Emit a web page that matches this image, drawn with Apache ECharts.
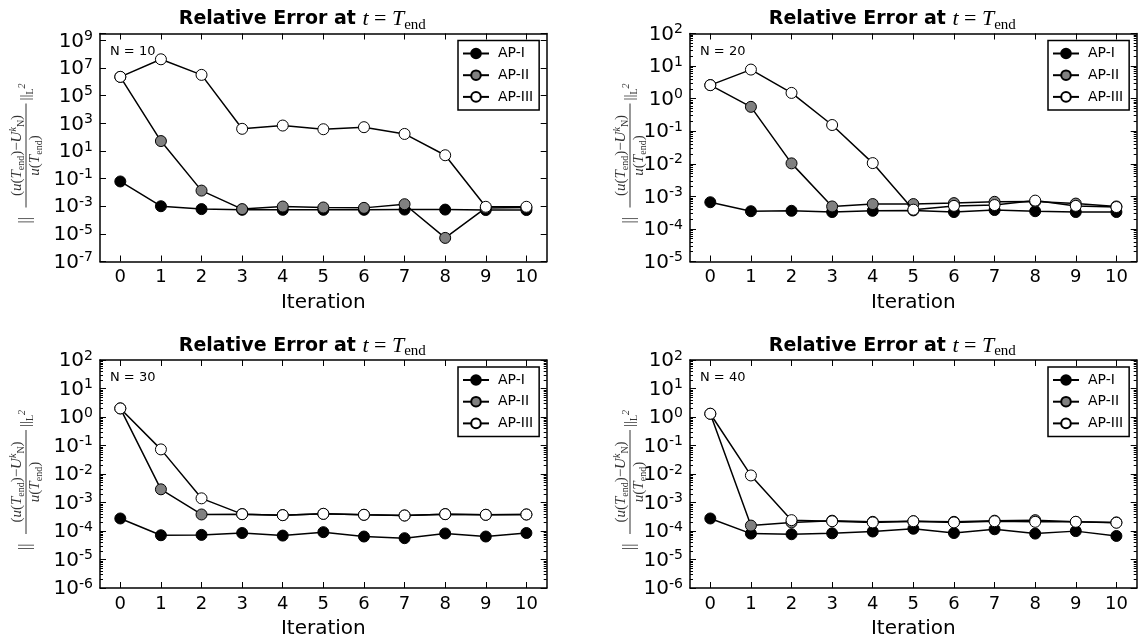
<!DOCTYPE html>
<html><head><meta charset="utf-8">
<script src="https://cdn.jsdelivr.net/npm/echarts@6/dist/echarts.min.js"></script>
<style>html,body{margin:0;padding:0;background:#fff}#c{width:1138px;height:640px}</style>
</head><body><div id="c"></div>
<script>
const iterations = ['0','1','2','3','4','5','6','7','8','9','10'];
const seriesNames = ['AP-I','AP-II','AP-III'];
const seriesFills = ['#000000','#808080','#ffffff'];

const n10_apI   = [0.062, 1.0e-3, 6.2e-4, 5.5e-4, 5.5e-4, 5.5e-4, 5.5e-4, 5.7e-4, 5.7e-4, 5.3e-4, 5.3e-4];
const n10_apII  = [2.3e6, 52, 0.0135, 6.2e-4, 9.5e-4, 8.1e-4, 7.6e-4, 1.4e-3, 5.1e-6, 7.5e-4, 8.0e-4];
const n10_apIII = [2.3e6, 4.3e7, 3.2e6, 400, 690, 373, 525, 170, 4.9, 9.1e-4, 9.1e-4];

const n20_apI   = [6.6e-4, 3.5e-4, 3.6e-4, 3.3e-4, 3.6e-4, 3.7e-4, 3.3e-4, 3.8e-4, 3.5e-4, 3.3e-4, 3.3e-4];
const n20_apII  = [2.6, 0.56, 0.0103, 4.9e-4, 5.8e-4, 5.8e-4, 6.2e-4, 6.8e-4, 6.9e-4, 6.0e-4, 4.9e-4];
const n20_apIII = [2.6, 7.8, 1.5, 0.155, 0.0105, 3.9e-4, 5.1e-4, 5.4e-4, 7.4e-4, 5.1e-4, 4.7e-4];

const n30_apI   = [2.75e-4, 7.1e-5, 7.3e-5, 8.5e-5, 6.9e-5, 9.1e-5, 6.4e-5, 5.6e-5, 8.2e-5, 6.4e-5, 8.5e-5];
const n30_apII  = [2.0, 2.9e-3, 3.8e-4, 3.9e-4, 3.6e-4, 4.0e-4, 3.7e-4, 3.5e-4, 3.9e-4, 3.7e-4, 3.8e-4];
const n30_apIII = [2.0, 0.073, 1.4e-3, 3.9e-4, 3.6e-4, 4.0e-4, 3.7e-4, 3.5e-4, 3.9e-4, 3.7e-4, 3.8e-4];

const n40_apI   = [2.75e-4, 8.1e-5, 7.7e-5, 8.3e-5, 9.6e-5, 1.2e-4, 8.5e-5, 1.15e-4, 8.1e-5, 9.9e-5, 6.7e-5];
const n40_apII  = [1.3, 1.55e-4, 2.0e-4, 2.3e-4, 2.1e-4, 2.2e-4, 2.1e-4, 2.3e-4, 2.4e-4, 2.1e-4, 2.0e-4];
const n40_apIII = [1.3, 8.9e-3, 2.4e-4, 2.2e-4, 2.0e-4, 2.2e-4, 2.0e-4, 2.2e-4, 2.1e-4, 2.1e-4, 1.95e-4];

const panelN = [10, 20, 30, 40];
const panelData = [
  [n10_apI, n10_apII, n10_apIII],
  [n20_apI, n20_apII, n20_apIII],
  [n30_apI, n30_apII, n30_apIII],
  [n40_apI, n40_apII, n40_apIII]
];
const yMinExp = [-7, -5, -6, -6];
const yMaxExp = [9.5, 2, 2, 2];
const yTickStep = [2, 1, 1, 1];

const gridPos = [
  {left: 100, top: 33.5, width: 446.7, height: 228},
  {left: 690, top: 33.5, width: 446.7, height: 228},
  {left: 100, top: 360, width: 446.7, height: 228},
  {left: 690, top: 360, width: 446.7, height: 228}
];
const ylabelX = [26, 630, 26, 630];

const FONT = 'DejaVu Sans';
const SERIF = 'Liberation Serif';

const grids = [], xAxes = [], yAxes = [], series = [], legends = [], graphics = [];

function yFormatter(v) {
  const e = Math.log10(v);
  const r = Math.round(e);
  if (Math.abs(e - r) > 1e-3) return '';
  return '{b|10}{p|' + r + '}';
}

gridPos.forEach((g, i) => {
  grids.push({left: g.left, top: g.top, width: g.width, height: g.height, containLabel: false, show: false});
  const lineStyle = {color: '#000', width: 1.5};
  xAxes.push({
    type: 'category', gridIndex: i, position: 'bottom', data: iterations, boundaryGap: true,
    axisLine: {show: true, lineStyle},
    axisTick: {show: true, inside: true, length: 6, alignWithLabel: true, interval: 0, lineStyle: {color: '#000', width: 1}},
    axisLabel: {show: true, interval: 0, margin: 7, fontSize: 18, fontFamily: FONT, color: '#000'},
    splitLine: {show: false},
    name: 'Iteration', nameLocation: 'middle', nameGap: 31,
    nameTextStyle: {fontSize: 20, fontFamily: FONT, color: '#000', verticalAlign: 'top'}
  });
  xAxes.push({
    type: 'category', gridIndex: i, position: 'top', data: iterations, boundaryGap: true,
    axisLine: {show: true, lineStyle},
    axisTick: {show: true, inside: true, length: 6, alignWithLabel: true, interval: 0, lineStyle: {color: '#000', width: 1}},
    axisLabel: {show: false}, splitLine: {show: false}
  });
  const minor = i > 0;
  const yCommon = {
    type: 'log', logBase: 10, gridIndex: i,
    min: Math.pow(10, yMinExp[i]), max: Math.pow(10, yMaxExp[i]), interval: yTickStep[i],
    axisLine: {show: true, lineStyle},
    axisTick: {show: true, inside: true, length: 6, lineStyle: {color: '#000', width: 1}},
    minorTick: {show: minor, splitNumber: 9, length: 3, lineStyle: {color: '#000', width: 1}},
    splitLine: {show: false}, minorSplitLine: {show: false}
  };
  yAxes.push(Object.assign({}, yCommon, {
    position: 'left',
    axisLabel: {
      show: true, margin: 7, formatter: yFormatter, showMinLabel: true, showMaxLabel: true, hideOverlap: false,
      rich: {
        b: {fontSize: 20, fontFamily: FONT, color: '#000', lineHeight: 22, verticalAlign: 'bottom'},
        p: {fontSize: 14, fontFamily: FONT, color: '#000', lineHeight: 22, verticalAlign: 'top'}
      }
    }
  }));
  yAxes.push(Object.assign({}, yCommon, {position: 'right', axisLabel: {show: false}}));

  seriesNames.forEach((nm, k) => {
    series.push({
      type: 'line', name: nm, xAxisIndex: 2 * i, yAxisIndex: 2 * i,
      data: panelData[i][k],
      symbol: 'circle', symbolSize: 11, showSymbol: true,
      lineStyle: {color: '#000', width: 1.5},
      itemStyle: {color: seriesFills[k], borderColor: '#000', borderWidth: 1},
      emphasis: {disabled: true}, silent: true, animation: false, z: 2 + k
    });
  });

  legends.push({
    show: true, left: g.left + 358, top: g.top + 7, orient: 'vertical',
    data: seriesNames, selectedMode: false,
    itemWidth: 26, itemHeight: 12, itemGap: 7.7,
    padding: [6, 6, 6, 4],
    borderColor: '#000', borderWidth: 1.5, backgroundColor: '#fff',
    textStyle: {fontSize: 14, fontFamily: FONT, color: '#000', padding: [0, 0, 0, 4]}
  });

  // title
  graphics.push({
    type: 'text', x: g.left + g.width / 2 - 21, y: g.top - 14, z: 10,
    style: {
      text: '{b|Relative Error at }{m|t}{e| = }{m|T}{s|end}',
      align: 'center', verticalAlign: 'middle', fill: '#000',
      rich: {
        b: {fontFamily: FONT, fontWeight: 'bold', fontSize: 19, lineHeight: 26, verticalAlign: 'middle'},
        m: {fontFamily: SERIF, fontStyle: 'italic', fontSize: 22, lineHeight: 26, verticalAlign: 'middle'},
        e: {fontFamily: SERIF, fontSize: 22, lineHeight: 26, verticalAlign: 'middle'},
        s: {fontFamily: SERIF, fontSize: 15, lineHeight: 26, verticalAlign: 'bottom'}
      }
    }
  });
  // N label
  graphics.push({
    type: 'text', x: g.left + 10, y: g.top + 18, z: 10,
    style: {text: 'N = ' + panelN[i], fontSize: 13, fontFamily: FONT, fill: '#000', align: 'left', verticalAlign: 'middle'}
  });
  // y label (rotated fraction)
  const lc = '#333';
  const r = {
    r: {fontFamily: SERIF, fontStyle: 'italic', fontSize: 15, lineHeight: 18, verticalAlign: 'middle'},
    n: {fontFamily: SERIF, fontSize: 15, lineHeight: 18, verticalAlign: 'middle'},
    s: {fontFamily: SERIF, fontSize: 10, lineHeight: 18, verticalAlign: 'bottom'},
    p: {fontFamily: SERIF, fontStyle: 'italic', fontSize: 10, lineHeight: 18, verticalAlign: 'top'}
  };
  graphics.push({
    type: 'group', x: ylabelX[i], y: g.top + g.height / 2, rotation: Math.PI / 2, z: 10,
    children: [
      {type: 'text', x: -76, y: 0, style: {text: '||', fontFamily: SERIF, fontSize: 16, fill: lc, align: 'left', verticalAlign: 'middle'}},
      {type: 'text', x: -8, y: -9, style: {text: '{n|(}{r|u}{n|(}{r|T}{s|end}{n|)−}{r|U}{p|k}{s|N}{n|)}', rich: r, fill: lc, align: 'center', verticalAlign: 'middle'}},
      {type: 'line', shape: {x1: -60, y1: 0, x2: 44, y2: 0}, style: {stroke: lc, lineWidth: 1}},
      {type: 'text', x: -8, y: 9, style: {text: '{r|u}{n|(}{r|T}{s|end}{n|)}', rich: r, fill: lc, align: 'center', verticalAlign: 'middle'}},
      {type: 'text', x: 47, y: 0, style: {text: '{n|||}{s|L}{p|2}', rich: r, fill: lc, align: 'left', verticalAlign: 'middle'}}
    ]
  });
});

const chart = echarts.init(document.getElementById('c'), null, {renderer: 'canvas'});
chart.setOption({
  backgroundColor: '#fff',
  animation: false,
  grid: grids, xAxis: xAxes, yAxis: yAxes, series: series, legend: legends, graphic: graphics
});
</script>
</body></html>
